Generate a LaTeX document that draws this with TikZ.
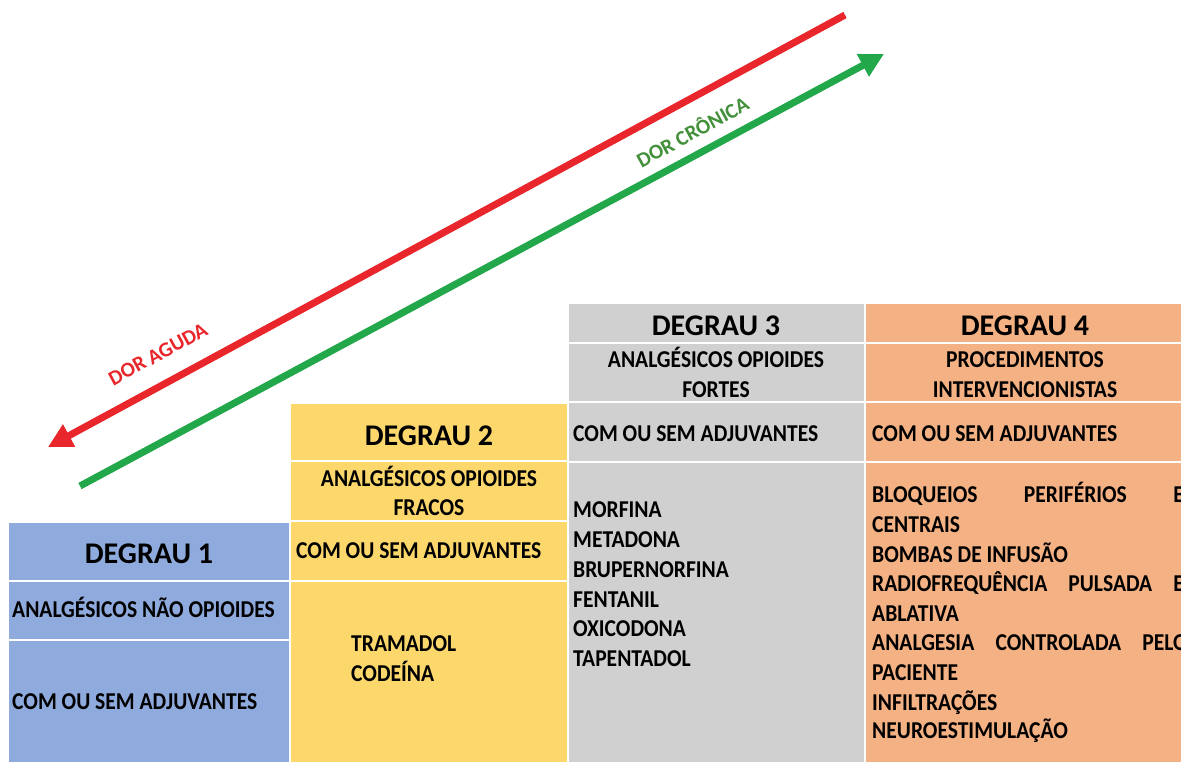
\documentclass[tikz,border=0pt]{standalone}
\usepackage{graphicx}
\usepackage{fontspec}
\setmainfont{Carlito}
\usetikzlibrary{arrows.meta}
\definecolor{cblue}{HTML}{8FAADC}
\definecolor{cyellow}{HTML}{FCD76C}
\definecolor{cgray}{HTML}{D0D0D0}
\definecolor{corange}{HTML}{F4B183}
\definecolor{ared}{HTML}{E8262B}
\definecolor{agreen}{HTML}{22A84A}
\definecolor{tgreen}{HTML}{43903A}
\newcommand{\tx}[1]{\scalebox{0.98}[1.1]{#1}}
\begin{document}
\begin{tikzpicture}[x=1pt,y=-1pt,
 cell/.style={draw=white, line width=1.5pt, anchor=north west, inner sep=0pt, outer sep=0pt},
 hdr/.style={font=\bfseries\fontsize{30}{32}\selectfont, inner sep=0pt, anchor=base},
 txt/.style={font=\bfseries\fontsize{22}{26}\selectfont, inner sep=0pt, anchor=base west},
 ctxt/.style={txt, anchor=base},
 arrowline/.style={line width=7pt},
 lbl/.style={font=\bfseries\fontsize{21}{23}\selectfont, inner sep=0pt, rotate=28.5}]
\useasboundingbox (0,0) rectangle (1181,761);
\clip (0,0) rectangle (1181,761);
\fill[white] (0,0) rectangle (1181,761);
% Degrau 1
\node[cell, fill=cblue, minimum width=282pt, minimum height=59pt] (d1a) at (8,522) {};
\node[cell, fill=cblue, minimum width=282pt, minimum height=59pt] (d1b) at (8,581) {};
\node[cell, fill=cblue, minimum width=282pt, minimum height=125pt] (d1c) at (8,640) {};
% Degrau 2
\node[cell, fill=cyellow, minimum width=278pt, minimum height=58pt] (d2a) at (290,403) {};
\node[cell, fill=cyellow, minimum width=278pt, minimum height=60pt] (d2b) at (290,461) {};
\node[cell, fill=cyellow, minimum width=278pt, minimum height=60pt] (d2c) at (290,521) {};
\node[cell, fill=cyellow, minimum width=278pt, minimum height=184pt] (d2d) at (290,581) {};
% Degrau 3
\node[cell, fill=cgray, minimum width=297pt, minimum height=40pt] (d3a) at (568,303) {};
\node[cell, fill=cgray, minimum width=297pt, minimum height=59pt] (d3b) at (568,343) {};
\node[cell, fill=cgray, minimum width=297pt, minimum height=60pt] (d3c) at (568,402) {};
\node[cell, fill=cgray, minimum width=297pt, minimum height=303pt] (d3d) at (568,462) {};
% Degrau 4
\node[cell, fill=corange, minimum width=330pt, minimum height=40pt] (d4a) at (865,303) {};
\node[cell, fill=corange, minimum width=330pt, minimum height=59pt] (d4b) at (865,343) {};
\node[cell, fill=corange, minimum width=330pt, minimum height=60pt] (d4c) at (865,402) {};
\node[cell, fill=corange, minimum width=330pt, minimum height=303pt] (d4d) at (865,462) {};
% texts Degrau 1
\node[hdr] (t1a) at (149,563) {DEGRAU 1};
\node[txt] (t1b) at (12,617) {\tx{ANALGÉSICOS NÃO OPIOIDES}};
\node[txt] (t1c) at (12,709) {\tx{COM OU SEM ADJUVANTES}};
% texts Degrau 2
\node[hdr] (t2a) at (429,445) {DEGRAU 2};
\node[ctxt] (t2b) at (429,486) {\tx{ANALGÉSICOS OPIOIDES}};
\node[ctxt] (t2c) at (429,515) {\tx{FRACOS}};
\node[txt] (t2d) at (296,558) {\tx{COM OU SEM ADJUVANTES}};
\node[txt] (t2e) at (351,651) {\tx{TRAMADOL}};
\node[txt] (t2f) at (351,681) {\tx{CODEÍNA}};
% texts Degrau 3
\node[hdr] (t3a) at (716,335) {DEGRAU 3};
\node[ctxt] (t3b) at (716,367) {\tx{ANALGÉSICOS OPIOIDES}};
\node[ctxt] (t3c) at (716,397) {\tx{FORTES}};
\node[txt] (t3d) at (573,441) {\tx{COM OU SEM ADJUVANTES}};
\node[txt] (t3e) at (573,517) {\tx{MORFINA}};
\node[txt] (t3f) at (573,547) {\tx{METADONA}};
\node[txt] (t3g) at (573,577) {\tx{BRUPERNORFINA}};
\node[txt] (t3h) at (573,607) {\tx{FENTANIL}};
\node[txt] (t3i) at (573,636) {\tx{OXICODONA}};
\node[txt] (t3j) at (573,666) {\tx{TAPENTADOL}};
% texts Degrau 4
\node[hdr] (t4a) at (1025,335) {DEGRAU 4};
\node[ctxt] (t4b) at (1025,367) {\tx{PROCEDIMENTOS}};
\node[ctxt] (t4c) at (1025,397) {\tx{INTERVENCIONISTAS}};
\node[txt] (t4d) at (872,441) {\tx{COM OU SEM ADJUVANTES}};
\node[txt] (t4e) at (872,502) {\tx{\makebox[318pt][s]{BLOQUEIOS\hfill PERIFÉRIOS\hfill E}}};
\node[txt] (t4f) at (872,532) {\tx{CENTRAIS}};
\node[txt] (t4g) at (872,562) {\tx{BOMBAS DE INFUSÃO}};
\node[txt] (t4h) at (872,591) {\tx{\makebox[318pt][s]{RADIOFREQUÊNCIA\hfill PULSADA\hfill E}}};
\node[txt] (t4i) at (872,621) {\tx{ABLATIVA}};
\node[txt] (t4j) at (872,650) {\tx{\makebox[322pt][s]{ANALGESIA\hfill CONTROLADA\hfill PELO}}};
\node[txt] (t4k) at (872,680) {\tx{PACIENTE}};
\node[txt] (t4l) at (872,710) {\tx{INFILTRAÇÕES}};
\node[txt] (t4m) at (872,738) {\tx{NEUROESTIMULAÇÃO}};
% arrows
\coordinate (r1) at (845,15);
\coordinate (r2) at (48,447);
\coordinate (g1) at (80,486);
\coordinate (g2) at (884,54);
\draw[arrowline, ared, -{Triangle[length=24pt,width=24pt]}] (r1) -- (r2);
\draw[arrowline, agreen, -{Triangle[length=24pt,width=24pt]}] (g1) -- (g2);
\node[lbl, text=ared] (la) at (158,354) {DOR AGUDA};
\node[lbl, text=tgreen] (lc) at (692,131) {DOR CRÔNICA};
\end{tikzpicture}
\end{document}
